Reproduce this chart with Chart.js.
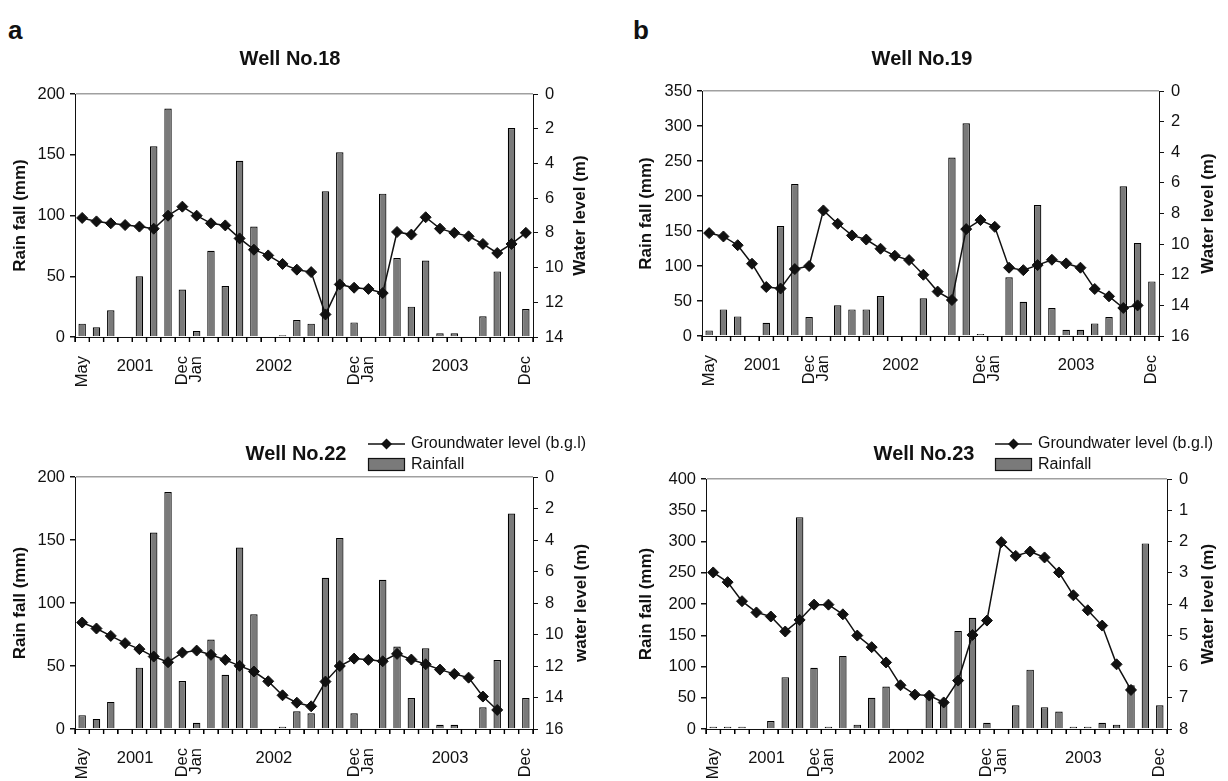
<!DOCTYPE html>
<html>
<head>
<meta charset="utf-8">
<script src="https://cdn.jsdelivr.net/npm/chart.js@4.4.1/dist/chart.umd.min.js"></script>
<style>
  html, body { margin: 0; padding: 0; background: #fff; }
  body { width: 1228px; height: 781px; position: relative; overflow: hidden; font-family: "Liberation Sans", Arial, sans-serif; }
  canvas { position: absolute; }
  .panel-letter { position: absolute; font-weight: bold; font-size: 26px; color: #111; }
</style>
</head>
<body>
<div class="panel-letter" style="left:8px;top:15px;">a</div>
<div class="panel-letter" style="left:633px;top:15px;">b</div>
<canvas id="c18" width="614" height="350" style="left:0px;top:40px;"></canvas>
<canvas id="c19" width="614" height="350" style="left:614px;top:40px;"></canvas>
<canvas id="c22" width="614" height="351" style="left:0px;top:430px;"></canvas>
<canvas id="c23" width="614" height="351" style="left:614px;top:430px;"></canvas>
<script>
// ---------- data ----------
const categories = ['May 2001','Jun 2001','Jul 2001','Aug 2001','Sep 2001','Oct 2001','Nov 2001','Dec 2001',
  'Jan 2002','Feb 2002','Mar 2002','Apr 2002','May 2002','Jun 2002','Jul 2002','Aug 2002','Sep 2002','Oct 2002','Nov 2002','Dec 2002',
  'Jan 2003','Feb 2003','Mar 2003','Apr 2003','May 2003','Jun 2003','Jul 2003','Aug 2003','Sep 2003','Oct 2003','Nov 2003','Dec 2003'];
const monthTickLabels = ['May','','','','','','','Dec','Jan','','','','','','','','','','','Dec','Jan','','','','','','','','','','','Dec'];
const yearLabels = ['2001','2002','2003'];
const yearLabelIndex = [3.7, 13.4, 25.7];

const well18Rain  = [11, 8, 22, 0, 50, 157, 188, 39, 5, 71, 42, 145, 91, 0, 1.5, 14, 11, 120, 152, 12, 0, 118, 65, 25, 63, 3, 3, 0, 17, 54, 172, 23];
const well18Level = [7.14, 7.34, 7.45, 7.55, 7.64, 7.76, 7.01, 6.49, 7.01, 7.45, 7.57, 8.32, 8.97, 9.3, 9.79, 10.12, 10.26, 12.7, 10.97, 11.16, 11.23, 11.47, 7.95, 8.1, 7.1, 7.76, 8.0, 8.2, 8.64, 9.16, 8.64, 8.0];

const well19Rain  = [8, 38, 28, 0, 19, 157, 217, 27, 0, 44, 38, 38, 57, 0, 0, 54, 0, 255, 304, 3, 0, 84, 49, 187, 40, 9, 9, 18, 27, 214, 133, 78];
const well19Level = [9.28, 9.5, 10.07, 11.28, 12.8, 12.9, 11.63, 11.43, 7.8, 8.67, 9.43, 9.7, 10.3, 10.76, 11.04, 12.0, 13.1, 13.65, 9.02, 8.43, 8.87, 11.54, 11.7, 11.37, 11.02, 11.26, 11.54, 12.93, 13.41, 14.17, 14.0, null];

const well22Rain  = [11, 8, 21.5, 0, 48.7, 156, 188, 38, 5, 71, 43, 144, 91, 0, 1.8, 14, 12.5, 120, 151.5, 12.5, 0, 118.4, 65.4, 24.6, 64, 3.4, 3.4, 0, 17.2, 54.8, 171, 24.6];
const well22Level = [9.24, 9.62, 10.09, 10.55, 10.93, 11.4, 11.76, 11.15, 11.02, 11.29, 11.61, 11.99, 12.35, 12.97, 13.86, 14.33, 14.56, 12.99, 12.0, 11.53, 11.61, 11.7, 11.23, 11.59, 11.89, 12.23, 12.5, 12.74, 13.94, 14.79, null, null];

const well23Rain  = [3.7, 3.7, 3.7, 0, 12.8, 83, 339, 98, 3.7, 117, 7, 50, 68, 0, 0, 55, 46, 157, 178, 10, 0, 38, 95, 35, 28, 3.7, 3.7, 10, 7, 70, 297, 38];
const well23Level = [2.99, 3.3, 3.91, 4.27, 4.4, 4.88, 4.51, 4.02, 4.02, 4.33, 5.01, 5.38, 5.87, 6.6, 6.9, 6.93, 7.15, 6.45, 4.99, 4.53, 2.02, 2.46, 2.32, 2.51, 2.99, 3.72, 4.2, 4.69, 5.93, 6.75, null, null];

// ---------- drawing ----------
const FONT = '"Liberation Sans", Arial, Helvetica, sans-serif';
const TXT = '#111';

const decor = {
  id: 'decor',
  afterDraw(chart, args, o) {
    const ctx = chart.ctx, a = chart.chartArea, xs = chart.scales.x;
    ctx.save();
    // category boundary tick marks below the x axis
    ctx.strokeStyle = '#000';
    ctx.lineWidth = 1.4;
    ctx.beginPath();
    for (let i = 0; i <= categories.length; i++) {
      const px = xs.getPixelForValue(i - 0.5);
      ctx.moveTo(px, a.bottom);
      ctx.lineTo(px, a.bottom + 5);
    }
    ctx.stroke();

    ctx.fillStyle = TXT;
    ctx.textAlign = 'center';
    ctx.textBaseline = 'middle';
    // title
    ctx.font = 'bold 20px ' + FONT;
    ctx.fillText(o.title, o.titleX, o.titleY);
    // years
    ctx.font = '16.5px ' + FONT;
    yearLabels.forEach((t, i) => ctx.fillText(t, xs.getPixelForValue(yearLabelIndex[i]), a.bottom + 29));
    // axis titles
    ctx.font = 'bold 17px ' + FONT;
    const cy = (a.top + a.bottom) / 2;
    [[o.leftTitle, o.leftTitleX], [o.rightTitle, o.rightTitleX]].forEach(([t, x]) => {
      ctx.save();
      ctx.translate(x, cy);
      ctx.rotate(-Math.PI / 2);
      ctx.fillText(t, 0, 0);
      ctx.restore();
    });
    // legend
    if (o.legend) {
      const lx = o.legend.x, ly = o.legend.y;
      ctx.strokeStyle = '#111';
      ctx.lineWidth = 1.5;
      ctx.beginPath(); ctx.moveTo(lx, ly); ctx.lineTo(lx + 37, ly); ctx.stroke();
      const mx = lx + 18.5;
      ctx.beginPath(); ctx.moveTo(mx, ly - 5.5); ctx.lineTo(mx + 5.5, ly); ctx.lineTo(mx, ly + 5.5); ctx.lineTo(mx - 5.5, ly); ctx.closePath(); ctx.fill();
      ctx.fillStyle = '#7a7a7a';
      ctx.fillRect(lx, ly + 14, 37, 13);
      ctx.lineWidth = 1.2;
      ctx.strokeRect(lx + 0.5, ly + 14.5, 36, 12);
      ctx.fillStyle = TXT;
      ctx.font = '16px ' + FONT;
      ctx.textAlign = 'left';
      ctx.fillText('Groundwater level (b.g.l)', lx + 43, ly);
      ctx.fillText('Rainfall', lx + 43, ly + 21);
    }
    ctx.restore();
  }
};

function makeChart(id, cfg) {
  const rainMax = cfg.rainMax, lvlMax = cfg.lvlMax;
  return new Chart(document.getElementById(id), {
    type: 'bar',
    data: {
      labels: categories,
      datasets: [
        {
          type: 'line', label: 'Groundwater level (b.g.l)', data: cfg.level, yAxisID: 'yR', order: 0,
          borderColor: '#111', borderWidth: 1.5, tension: 0, spanGaps: false,
          pointStyle: 'rectRot', pointRadius: 5.5, pointBackgroundColor: '#111', pointBorderColor: '#111', pointBorderWidth: 1
        },
        {
          type: 'bar', label: 'Rainfall', data: cfg.rain, yAxisID: 'yL', order: 1,
          backgroundColor: '#7a7a7a', borderColor: '#000', borderWidth: 1.2,
          categoryPercentage: 1.0, barPercentage: 0.52
        }
      ]
    },
    options: {
      responsive: false, animation: false,
      layout: { padding: { top: cfg.padTop, left: 0, right: 0, bottom: 0 } },
      plugins: {
        legend: { display: false }, tooltip: { enabled: false }, title: { display: false },
        decor: cfg.decor
      },
      scales: {
        x: {
          type: 'category', offset: true,
          grid: { offset: true, drawOnChartArea: false, drawTicks: true, tickLength: 5, color: '#000', lineWidth: 1 },
          border: { display: true, color: '#111', width: 1 },
          ticks: {
            autoSkip: false, minRotation: 90, maxRotation: 90, padding: 14, color: TXT,
            font: { family: FONT, size: 16.5 },
            callback: (v, i) => monthTickLabels[i]
          },
          afterFit: s => { s.height = cfg.xH; }
        },
        yL: {
          position: 'left', min: 0, max: rainMax,
          ticks: { stepSize: 50, color: TXT, padding: 5, font: { family: FONT, size: 16.5 } },
          grid: {
            drawOnChartArea: true, tickLength: 5, tickColor: '#111', lineWidth: 1.5,
            color: c => (c.tick && c.tick.value === rainMax) ? '#a0a0a0' : 'rgba(0,0,0,0)'
          },
          border: { display: true, color: '#111', width: 1 },
          afterFit: s => { s.width = cfg.leftW; }
        },
        yR: {
          position: 'right', min: 0, max: lvlMax, reverse: true,
          ticks: { stepSize: cfg.lvlStep, color: TXT, padding: 7, font: { family: FONT, size: 16.5 } },
          grid: { drawOnChartArea: false, tickLength: 5, color: '#111', lineWidth: 1 },
          border: { display: true, color: '#111', width: 1 },
          afterFit: s => { s.width = cfg.rightW; }
        }
      }
    },
    plugins: [decor]
  });
}

// panel positions are in canvas coordinates
makeChart('c18', {
  rain: well18Rain, level: well18Level, rainMax: 200, lvlMax: 14, lvlStep: 2,
  padTop: 54, leftW: 75, rightW: 81, xH: 53,
  decor: { title: 'Well No.18', titleX: 290, titleY: 19, leftTitle: 'Rain fall (mm)', leftTitleX: 20,
           rightTitle: 'Water level (m)', rightTitleX: 580 }
});
makeChart('c19', {
  rain: well19Rain, level: well19Level, rainMax: 350, lvlMax: 16, lvlStep: 2,
  padTop: 51, leftW: 88, rightW: 69, xH: 54,
  decor: { title: 'Well No.19', titleX: 308, titleY: 19, leftTitle: 'Rain fall (mm)', leftTitleX: 32,
           rightTitle: 'Water level (m)', rightTitleX: 594 }
});
makeChart('c22', {
  rain: well22Rain, level: well22Level, rainMax: 200, lvlMax: 16, lvlStep: 2,
  padTop: 47, leftW: 75, rightW: 81, xH: 52,
  decor: { title: 'Well No.22', titleX: 296, titleY: 24, leftTitle: 'Rain fall (mm)', leftTitleX: 20,
           rightTitle: 'water level (m)', rightTitleX: 581,
           legend: { x: 368, y: 14 } }
});
makeChart('c23', {
  rain: well23Rain, level: well23Level, rainMax: 400, lvlMax: 8, lvlStep: 1,
  padTop: 49, leftW: 92, rightW: 61, xH: 52,
  decor: { title: 'Well No.23', titleX: 310, titleY: 24, leftTitle: 'Rain fall (mm)', leftTitleX: 32,
           rightTitle: 'Water level (m)', rightTitleX: 594,
           legend: { x: 381, y: 14 } }
});
</script>
</body>
</html>
